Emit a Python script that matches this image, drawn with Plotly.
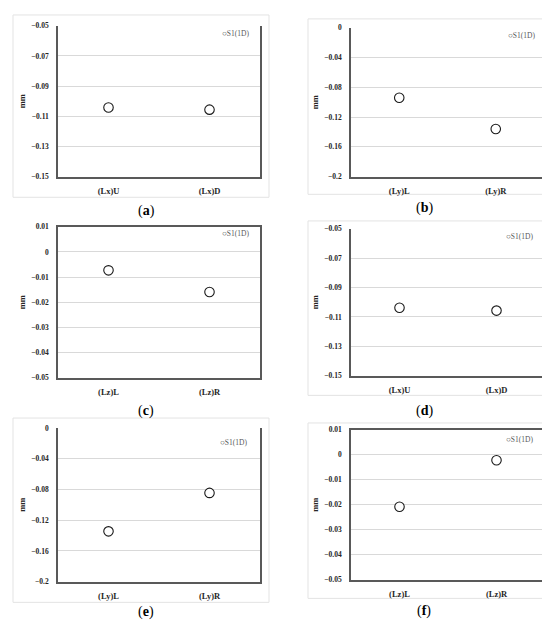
import plotly.graph_objs as go

# ---------- data ----------
panel_letters = ["a", "b", "c", "d", "e", "f"]

cats_x = ["(Lx)U", "(Lx)D"]
cats_y = ["(Ly)L", "(Ly)R"]
cats_z = ["(Lz)L", "(Lz)R"]

vals_a = [-0.1042, -0.1056]
vals_b = [-0.094, -0.136]
vals_c = [-0.0073, -0.0159]
vals_d = [-0.1037, -0.1057]
vals_e = [-0.1346, -0.0846]
vals_f = [-0.0208, -0.0022]

range_x = [-0.15, -0.05]
range_y = [-0.2, 0.0]
range_z = [-0.05, 0.01]
dtick_x = 0.02
dtick_y = 0.04
dtick_z = 0.01

series_name = "S1(1D)"
y_title = "mm"

# ---------- layout helpers (pixels of a 550x622 page) ----------
W, H = 550, 622
SERIF = "Liberation Serif, Times New Roman, serif"
AXIS_DARK = "#595959"
GRID = "#d9d9d9"


def px_x(a, b):
    return [a / W, b / W]


def px_y(top, bottom):
    return [1 - bottom / H, 1 - top / H]


panels = [
    # cats, vals, range, dtick, plot area (l, r, t, b), frame, caption xy, legend xy, top line dark
    (cats_x, vals_a, range_x, dtick_x, (50, 252, 14, 167), (5, 3, 261, 188), (138, 202), (212, 22), False),
    (cats_y, vals_b, range_y, dtick_y, (343, 536, 16, 167), (300, 7, 538, 185), (416, 199), (498, 24), False),
    (cats_z, vals_c, range_z, dtick_z, (50, 252, 218, 371), None, (138, 405), (212, 225), True),
    (cats_x, vals_d, range_x, dtick_x, (343, 537, 220, 369), (300, 212, 538, 389), (416, 405), (496, 228), False),
    (cats_y, vals_e, range_y, dtick_y, (50, 252, 422, 578), (5, 412, 261, 599), (138, 609), (210, 437), False),
    (cats_z, vals_f, range_z, dtick_z, (343, 537, 424, 576), (300, 417, 538, 595), (416, 608), (496, 434), True),
]

fig = go.Figure()
shapes = []
annotations = []
layout_axes = {}

for i, (cats, vals, yr, dt, area, frame, cap, leg, top_dark) in enumerate(panels, start=1):
    suffix = "" if i == 1 else str(i)
    l, r, t, b = area

    fig.add_trace(
        go.Scatter(
            x=cats,
            y=vals,
            mode="markers",
            name=series_name,
            showlegend=False,
            marker=dict(symbol="circle", size=9.5, color="white",
                        line=dict(color="#1a1a1a", width=1.1)),
            xaxis="x" + suffix,
            yaxis="y" + suffix,
        )
    )

    layout_axes["xaxis" + suffix] = dict(
        domain=px_x(l, r),
        anchor="y" + suffix,
        type="category",
        range=[-0.5, 1.5],
        showgrid=False,
        showline=True,
        linecolor=AXIS_DARK,
        linewidth=1.5,
        mirror=top_dark,
        ticks="",
        ticklabelstandoff=5,
        tickfont=dict(family=SERIF, size=8.5, color="#262626", weight="bold"),
        fixedrange=True,
    )
    layout_axes["yaxis" + suffix] = dict(
        domain=px_y(t, b),
        anchor="x" + suffix,
        range=yr,
        tick0=yr[0],
        dtick=dt,
        showgrid=True,
        gridcolor=GRID,
        gridwidth=1,
        zeroline=False,
        showline=True,
        linecolor=AXIS_DARK,
        linewidth=1.5,
        mirror=True,
        ticks="",
        ticklabelstandoff=6,
        tickfont=dict(family=SERIF, size=7.5, color="#262626", weight="bold"),
        title=dict(text=y_title, standoff=4,
                   font=dict(family=SERIF, size=8.5, color="#262626", weight="bold")),
        fixedrange=True,
    )

    if frame is not None:
        x0, y0, x1, y1 = frame
        shapes.append(dict(type="rect", xref="paper", yref="paper",
                           x0=x0 / W, x1=x1 / W, y0=1 - y1 / H, y1=1 - y0 / H,
                           line=dict(color="#e3e3e3", width=1), layer="below"))

    annotations.append(dict(
        xref="paper", yref="paper", x=cap[0] / W, y=1 - cap[1] / H,
        xanchor="center", yanchor="middle", showarrow=False,
        text="(<b>%s</b>)" % panel_letters[i - 1],
        font=dict(family=SERIF, size=14, color="black"),
    ))
    annotations.append(dict(
        xref="paper", yref="paper", x=leg[0] / W, y=1 - leg[1] / H,
        xanchor="left", yanchor="middle", showarrow=False,
        text='<span style="font-size:8px;color:#333333">○</span>' + series_name,
        font=dict(family=SERIF, size=7.5, color="#595959"),
    ))

fig.update_layout(
    width=W,
    height=H,
    margin=dict(l=0, r=0, t=0, b=0),
    paper_bgcolor="white",
    plot_bgcolor="white",
    showlegend=False,
    shapes=shapes,
    annotations=annotations,
    **layout_axes,
)

fig.write_html("out.html", config={"displayModeBar": False})
